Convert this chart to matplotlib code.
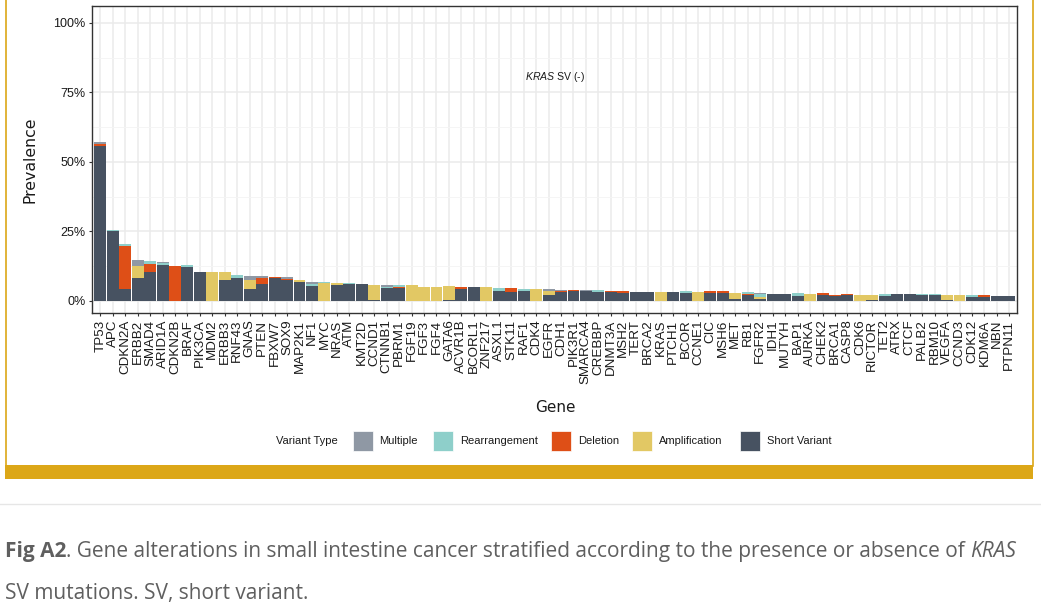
import matplotlib
matplotlib.use('Agg')
import matplotlib.pyplot as plt
import numpy as np
from matplotlib.patches import Rectangle
from matplotlib.lines import Line2D
from matplotlib import font_manager
import matplotlib.transforms as mtrans

# ---------------- data (percent) ----------------
genes = ['TP53', 'APC', 'CDKN2A', 'ERBB2', 'SMAD4', 'ARID1A', 'CDKN2B', 'BRAF', 'PIK3CA', 'MDM2',
         'ERBB3', 'RNF43', 'GNAS', 'PTEN', 'FBXW7', 'SOX9', 'MAP2K1', 'NF1', 'MYC', 'NRAS',
         'ATM', 'KMT2D', 'CCND1', 'CTNNB1', 'PBRM1', 'FGF19', 'FGF3', 'FGF4', 'GATA6', 'ACVR1B',
         'BCORL1', 'ZNF217', 'ASXL1', 'STK11', 'RAF1', 'CDK4', 'EGFR', 'CDH1', 'PIK3R1', 'SMARCA4',
         'CREBBP', 'DNMT3A', 'MSH2', 'TERT', 'BRCA2', 'KRAS', 'PTCH1', 'BCOR', 'CCNE1', 'CIC',
         'MSH6', 'MET', 'RB1', 'FGFR2', 'IDH1', 'MUTYH', 'BAP1', 'AURKA', 'CHEK2', 'BRCA1',
         'CASP8', 'CDK6', 'RICTOR', 'TET2', 'ATRX', 'CTCF', 'PALB2', 'RBM10', 'VEGFA', 'CCND3',
         'CDK12', 'KDM6A', 'NBN', 'PTPN11']

short_variant = [55.8, 25.0, 4.2, 8.3, 10.3, 13.0, 0.0, 12.2, 10.5, 0.0,
                 7.4, 8.3, 4.2, 6.0, 8.1, 7.5, 6.8, 5.3, 0.0, 5.8,
                 6.2, 6.2, 0.4, 4.5, 4.7, 0.0, 0.0, 0.0, 0.3, 4.2,
                 4.8, 0.0, 3.6, 3.3, 3.4, 0.0, 2.1, 3.1, 3.4, 3.5,
                 3.1, 3.0, 2.9, 3.3, 3.3, 0.0, 3.0, 2.9, 0.0, 2.9,
                 2.9, 0.5, 1.9, 0.7, 2.5, 2.5, 1.8, 0.0, 2.1, 1.6,
                 2.2, 0.0, 0.3, 1.8, 2.4, 2.3, 1.9, 1.9, 0.2, 0.0,
                 1.4, 1.4, 1.8, 1.8]
amplification = [0.0, 0.0, 0.0, 4.3, 0.0, 0.0, 0.0, 0.0, 0.0, 10.5,
                 2.9, 0.0, 3.3, 0.0, 0.0, 0.0, 0.6, 0.0, 6.4, 0.5,
                 0.0, 0.0, 5.3, 0.0, 0.0, 5.6, 5.1, 5.1, 5.0, 0.0,
                 0.0, 4.8, 0.0, 0.0, 0.0, 4.1, 1.4, 0.0, 0.0, 0.0,
                 0.0, 0.0, 0.0, 0.0, 0.0, 3.1, 0.0, 0.0, 3.1, 0.0,
                 0.0, 2.2, 0.0, 0.7, 0.0, 0.0, 0.0, 2.5, 0.0, 0.0,
                 0.0, 2.2, 1.9, 0.0, 0.0, 0.0, 0.0, 0.0, 1.7, 1.9,
                 0.0, 0.0, 0.0, 0.0]
deletion = [0.7, 0.0, 15.4, 0.0, 3.1, 0.0, 12.6, 0.0, 0.0, 0.0,
            0.0, 0.0, 0.0, 2.3, 0.3, 0.5, 0.0, 0.0, 0.0, 0.0,
            0.0, 0.0, 0.0, 0.0, 0.3, 0.0, 0.0, 0.0, 0.0, 0.6,
            0.0, 0.0, 0.0, 1.2, 0.0, 0.0, 0.0, 0.3, 0.5, 0.0,
            0.0, 0.5, 0.6, 0.0, 0.0, 0.0, 0.0, 0.0, 0.0, 0.5,
            0.5, 0.0, 0.5, 0.0, 0.0, 0.0, 0.0, 0.0, 0.6, 0.6,
            0.2, 0.0, 0.0, 0.0, 0.0, 0.0, 0.0, 0.0, 0.0, 0.0,
            0.0, 0.5, 0.0, 0.0]
rearrangement = [0.0, 0.6, 0.8, 0.0, 0.9, 0.6, 0.0, 0.6, 0.0, 0.0,
                 0.0, 0.8, 0.0, 0.0, 0.0, 0.0, 0.0, 0.7, 0.2, 0.0,
                 0.2, 0.0, 0.0, 0.5, 0.5, 0.0, 0.0, 0.0, 0.0, 0.0,
                 0.0, 0.0, 1.0, 0.0, 0.7, 0.0, 0.0, 0.0, 0.0, 0.0,
                 0.6, 0.0, 0.0, 0.0, 0.0, 0.0, 0.0, 0.5, 0.0, 0.0,
                 0.0, 0.0, 0.6, 1.0, 0.0, 0.0, 0.9, 0.0, 0.0, 0.0,
                 0.0, 0.0, 0.0, 0.6, 0.0, 0.0, 0.5, 0.5, 0.0, 0.0,
                 0.5, 0.0, 0.0, 0.0]
multiple = [0.5, 0.0, 0.0, 2.1, 0.0, 0.3, 0.0, 0.0, 0.0, 0.0,
            0.2, 0.0, 1.5, 0.7, 0.0, 0.4, 0.0, 0.8, 0.0, 0.0,
            0.0, 0.0, 0.0, 0.8, 0.0, 0.0, 0.0, 0.0, 0.0, 0.0,
            0.0, 0.0, 0.0, 0.0, 0.0, 0.0, 0.6, 0.6, 0.0, 0.2,
            0.0, 0.0, 0.0, 0.0, 0.0, 0.0, 0.0, 0.0, 0.0, 0.0,
            0.0, 0.0, 0.0, 0.5, 0.0, 0.0, 0.0, 0.0, 0.0, 0.0,
            0.0, 0.0, 0.0, 0.0, 0.0, 0.0, 0.0, 0.0, 0.0, 0.0,
            0.0, 0.0, 0.0, 0.0]

variant_types = ['Multiple', 'Rearrangement', 'Deletion', 'Amplification', 'Short Variant']
variant_colors = ['#8F98A4', '#8ECFCA', '#DE4F17', '#E2C864', '#475261']
y_ticks = [0, 0.25, 0.5, 0.75, 1.0]
y_tick_labels = ['0%', '25%', '50%', '75%', '100%']

# ---------------- figure ----------------
W, H = 1041, 607
plt.rcParams['mathtext.fontset'] = 'custom'
plt.rcParams['mathtext.rm'] = 'Liberation Sans'
plt.rcParams['mathtext.it'] = 'Liberation Sans:italic'
fig = plt.figure(figsize=(W / 100, H / 100), dpi=100)
fig.patch.set_facecolor('white')


def fx(x):
    return x / W


def fy(y):
    return 1 - y / H


ax = fig.add_axes([fx(92.3), fy(313), fx(1017.3 - 92.3), (313 - 6) / H])

x = np.arange(len(genes))
series = {
    'Short Variant': np.array(short_variant) / 100,
    'Amplification': np.array(amplification) / 100,
    'Deletion': np.array(deletion) / 100,
    'Rearrangement': np.array(rearrangement) / 100,
    'Multiple': np.array(multiple) / 100,
}
cmap = dict(zip(variant_types, variant_colors))
bottom = np.zeros(len(genes))
for vt in ['Short Variant', 'Amplification', 'Deletion', 'Rearrangement', 'Multiple']:
    vals = series[vt]
    ax.bar(x, vals, bottom=bottom, width=0.96, color=cmap[vt], linewidth=0, zorder=2)
    bottom = bottom + vals

ax.set_xlim(-0.64, len(genes) - 1 + 0.64)
ax.set_ylim(-0.044, 1.061)
ax.set_yticks(y_ticks)
ax.set_yticklabels(y_tick_labels, fontsize=9, family='Liberation Sans', color='#1a1a1a')
ax.set_yticks([0.125, 0.375, 0.625, 0.875], minor=True)
ax.set_xticks(x)
ax.set_xticklabels(genes, rotation=90, fontsize=9.6, family='Liberation Sans', color='#1a1a1a')
ax.tick_params(axis='both', which='major', length=2.2, width=0.8, color='#333333', pad=2.5)
ax.tick_params(axis='y', which='minor', length=0)
ax.grid(which='major', color='#EBEBEB', linewidth=1.1, zorder=0)
ax.grid(which='minor', axis='y', color='#F4F4F4', linewidth=0.6, zorder=0)
ax.set_axisbelow(True)
for s in ax.spines.values():
    s.set_color('#333333')
    s.set_linewidth(1.0)

trans = mtrans.blended_transform_factory(ax.transAxes, ax.transData)
ax.text(0.5, 0.805, r'$\it{KRAS}$ SV (-)', transform=trans, ha='center', va='center',
        fontsize=7.6, family='Liberation Sans', color='#1a1a1a')

fig.text(fx(30), fy(160), 'Prevalence', rotation=90, ha='center', va='center',
         fontsize=11.3, family='DejaVu Sans', color='#1a1a1a')
fig.text(fx(555), fy(407), 'Gene', ha='center', va='center',
         fontsize=11, family='DejaVu Sans', color='#1a1a1a')

# ---------------- legend ----------------
fig.text(fx(276), fy(441), 'Variant Type', ha='left', va='center', fontsize=8,
         family='Liberation Sans', color='#1a1a1a')
box_x = [352.6, 433, 551, 632, 740]
for bx, name, col in zip(box_x, variant_types, variant_colors):
    fig.patches.append(Rectangle((fx(bx), fy(451)), 20 / W, 20 / H, transform=fig.transFigure,
                                 facecolor=col, edgecolor='white', linewidth=0.5))
    fig.text(fx(bx + 27), fy(441), name, ha='left', va='center', fontsize=8,
             family='Liberation Sans', color='#1a1a1a')

# ---------------- frame ----------------
gold = '#DCA718'
fig.patches.append(Rectangle((fx(5), fy(479)), (1033 - 5) / W, 14 / H, transform=fig.transFigure,
                             facecolor=gold, edgecolor='none'))
fig.lines.append(Line2D([fx(5.5), fx(5.5)], [fy(0), fy(466)], transform=fig.transFigure,
                        color=gold, linewidth=1.2))
fig.lines.append(Line2D([fx(1032.5), fx(1032.5)], [fy(0), fy(466)], transform=fig.transFigure,
                        color=gold, linewidth=1.2))
fig.lines.append(Line2D([0, 1], [fy(504), fy(504)], transform=fig.transFigure,
                        color='#E6E6E6', linewidth=1.0))

# ---------------- caption ----------------
names = {f.name for f in font_manager.fontManager.ttflist}
cap_family = 'Liberation Sans Narrow' if 'Liberation Sans Narrow' in names else 'Open Sans'
cap_color = '#5f5f5f'
renderer = fig.canvas.get_renderer()


def measure(s, size, weight='normal', style='normal'):
    t = fig.text(0, 0, s, fontsize=size, family=cap_family, weight=weight, style=style)
    w = t.get_window_extent(renderer).width
    t.remove()
    return w


line1 = [('Fig A2', 'bold', 'normal', False),
         ('. Gene alterations in small intestine cancer stratified according to the presence or absence of',
          'normal', 'normal', False),
         ('KRAS', 'normal', 'italic', True)]
line2 = [('SV mutations. SV, short variant.', 'normal', 'normal', False)]

ref = 12.0
space_w = measure('x x', ref) - measure('xx', ref)
total = sum(measure(p[0], ref, p[1], p[2]) + (space_w if p[3] else 0) for p in line1)
size = min(15.0, ref * 1020 / total)
scale = size / ref


def draw_line(pieces, y):
    xp = 5.0
    for s, wgt, sty, lead in pieces:
        if lead:
            xp += space_w * scale
        t = fig.text(fx(xp), fy(y), s, fontsize=size, family=cap_family, weight=wgt, style=sty,
                     color=cap_color, ha='left', va='baseline')
        xp += t.get_window_extent(renderer).width


draw_line(line1, 557)
draw_line(line2, 599)

fig.savefig('out.png', dpi=100, facecolor='white')
